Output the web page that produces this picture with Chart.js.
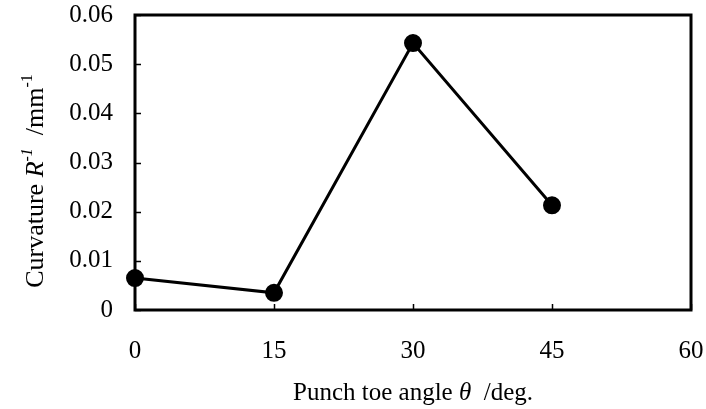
<!DOCTYPE html>
<html>
<head>
<meta charset="utf-8">
<script src="https://cdn.jsdelivr.net/npm/chart.js@4.4.0/dist/chart.umd.min.js"></script>
<style>
  html, body { margin: 0; padding: 0; background: #fff; }
</style>
</head>
<body>
<canvas id="c" width="706" height="409"></canvas>
<script>
// data
const angles = [0, 15, 30, 45];
const curvature = [0.0065, 0.0035, 0.0543, 0.0213];
const xTicks = [0, 15, 30, 45, 60];
const yTicks = [0, 0.01, 0.02, 0.03, 0.04, 0.05, 0.06];

const FONT = '"Liberation Serif", "Times New Roman", serif';

// frame + inward ticks + axis titles with italic parts
const frame = {
    id: 'frame',
    afterDraw(chart) {
        const c = chart.ctx;
        const a = chart.chartArea;
        const xs = chart.scales.x, ys = chart.scales.y;
        c.save();
        c.strokeStyle = '#000';
        c.lineWidth = 1.5;
        c.beginPath();
        yTicks.forEach(v => {
            const y = Math.round(ys.getPixelForValue(v)) + 0.5;
            c.moveTo(a.left, y); c.lineTo(a.left + 6, y);
        });
        xTicks.forEach(v => {
            const x = Math.round(xs.getPixelForValue(v)) + 0.5;
            c.moveTo(x, a.bottom); c.lineTo(x, a.bottom - 6);
        });
        c.stroke();
        c.lineWidth = 3;
        c.strokeRect(a.left, a.top, a.right - a.left, a.bottom - a.top);

        // x title
        c.fillStyle = '#000';
        c.textBaseline = 'alphabetic';
        const parts = [['Punch toe angle ', 'normal'], ['\u03b8', 'italic'], ['  /deg.', 'normal']];
        let w = 0;
        parts.forEach(p => { c.font = p[1] + ' 25px ' + FONT; w += c.measureText(p[0]).width; });
        let x = (a.left + a.right) / 2 - w / 2;
        parts.forEach(p => {
            c.font = p[1] + ' 25px ' + FONT;
            c.fillText(p[0], x, 400);
            x += c.measureText(p[0]).width;
        });

        // y title, rotated
        c.translate(43, 181);
        c.rotate(-Math.PI / 2);
        const yp = [['Curvature ', 'normal', 0, 26], ['R', 'italic', 0, 26], ['-1', 'italic', -11, 16],
                    ['  /mm', 'normal', 0, 26], ['-1', 'normal', -11, 16]];
        let yw = 0;
        yp.forEach(p => { c.font = p[1] + ' ' + p[3] + 'px ' + FONT; yw += c.measureText(p[0]).width; });
        let px = -yw / 2;
        yp.forEach(p => {
            c.font = p[1] + ' ' + p[3] + 'px ' + FONT;
            c.fillText(p[0], px, p[2]);
            px += c.measureText(p[0]).width;
        });
        c.restore();
    }
};

new Chart(document.getElementById('c'), {
    type: 'scatter',
    data: {
        datasets: [{
            data: angles.map((a, i) => ({ x: a, y: curvature[i] })),
            showLine: true,
            borderColor: '#000',
            backgroundColor: '#000',
            borderWidth: 3,
            pointRadius: 7.5,
            pointHoverRadius: 7.5,
            clip: false
        }]
    },
    options: {
        responsive: false,
        animation: false,
        events: [],
        layout: { padding: { top: 15, right: 15, left: 0, bottom: 0 } },
        plugins: { legend: { display: false }, tooltip: { enabled: false } },
        scales: {
            x: {
                type: 'linear',
                min: 0, max: 60,
                afterBuildTicks: s => { s.ticks = xTicks.map(v => ({ value: v })); },
                afterFit: s => { s.height = 99; s.paddingLeft = 0; s.paddingRight = 0; },
                grid: { display: false, drawTicks: false },
                border: { display: false },
                ticks: { color: '#000', padding: 26, maxRotation: 0, font: { family: FONT, size: 25 } }
            },
            y: {
                min: 0, max: 0.06,
                afterBuildTicks: s => { s.ticks = yTicks.map(v => ({ value: v })); },
                afterFit: s => { s.width = 135; s.paddingTop = 0; s.paddingBottom = 0; },
                grid: { display: false, drawTicks: false },
                border: { display: false },
                ticks: {
                    color: '#000', padding: 22, font: { family: FONT, size: 25 },
                    callback: v => v === 0 ? '0' : v.toFixed(2)
                }
            }
        }
    },
    plugins: [frame]
});
</script>
</body>
</html>
